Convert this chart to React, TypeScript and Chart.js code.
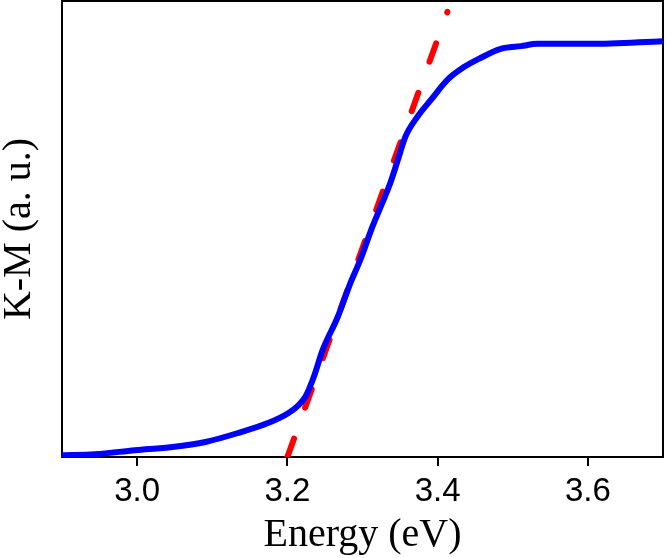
import React, { useEffect, useRef } from "react";
import { Chart, registerables } from "chart.js";

Chart.register(...registerables);

const ENERGY = [2.9, 2.944, 2.997, 3.047, 3.091, 3.135, 3.175, 3.201, 3.215, 3.224, 3.235, 3.247, 3.267, 3.284, 3.297, 3.313, 3.324, 3.337, 3.347, 3.357, 3.373, 3.391, 3.413, 3.435, 3.457, 3.484, 3.511, 3.533, 3.604, 3.7];
const KM = [0.004, 0.006, 0.015, 0.022, 0.033, 0.053, 0.075, 0.096, 0.114, 0.132, 0.175, 0.235, 0.307, 0.382, 0.432, 0.504, 0.548, 0.601, 0.651, 0.702, 0.746, 0.783, 0.827, 0.855, 0.875, 0.895, 0.901, 0.906, 0.906, 0.912];
const FIT_X = [3.2, 3.413];
const FIT_Y = [0, 0.976];
const X_TICKS = [3.0, 3.2, 3.4, 3.6];
const X_LABEL = "Energy (eV)";
const Y_LABEL = "K-M (a. u.)";

const framePlugin = {
  id: "frame",
  beforeDatasetsDraw(chart: any) {
    const { ctx, chartArea } = chart;
    ctx.save();
    ctx.strokeStyle = "#000";
    ctx.lineWidth = 2;
    ctx.strokeRect(chartArea.left, chartArea.top, chartArea.right - chartArea.left, chartArea.bottom - chartArea.top);
    ctx.restore();
  },
};

export default function App() {
  const ref = useRef<HTMLCanvasElement>(null);
  useEffect(() => {
    const chart = new Chart(ref.current!, {
      type: "line",
      data: {
        datasets: [
          {
            data: ENERGY.map((x, i) => ({ x, y: KM[i] })),
            borderColor: "#0000ff",
            borderWidth: 6,
            pointRadius: 0,
            cubicInterpolationMode: "monotone",
            borderJoinStyle: "round",
            borderCapStyle: "round",
          },
          {
            data: FIT_X.map((x, i) => ({ x, y: FIT_Y[i] })),
            borderColor: "#ff0000",
            borderWidth: 6,
            pointRadius: 0,
            borderDash: [19.5, 33],
            borderCapStyle: "round",
          },
        ],
      },
      options: {
        responsive: false,
        animation: false,
        devicePixelRatio: 1,
        layout: { padding: { top: 1, right: 3, left: 0, bottom: 0 } },
        plugins: { legend: { display: false }, tooltip: { enabled: false } },
        scales: {
          x: {
            type: "linear",
            min: 2.9,
            max: 3.7,
            afterBuildTicks: (s: any) => {
              s.ticks = X_TICKS.map((v) => ({ value: v }));
            },
            afterFit: (s: any) => {
              s.height = 101;
            },
            ticks: {
              color: "#000",
              font: { family: "Liberation Sans", size: 33 },
              padding: 6,
              maxRotation: 0,
              callback: (v: any) => Number(v).toFixed(1),
            },
            grid: { drawOnChartArea: false, drawTicks: true, tickLength: 9, color: "#000", lineWidth: 2 },
            border: { display: false },
            title: {
              display: true,
              text: X_LABEL,
              color: "#000",
              font: { family: "Liberation Serif", size: 40, lineHeight: 1 },
              padding: { top: 0, bottom: 3 },
            },
          },
          y: {
            min: 0,
            max: 1,
            afterFit: (s: any) => {
              s.width = 62;
            },
            ticks: { display: false },
            grid: { display: false },
            border: { display: false },
            title: {
              display: true,
              text: Y_LABEL,
              color: "#000",
              font: { family: "Liberation Serif", size: 40, lineHeight: 1 },
              padding: { top: -1, bottom: 0 },
            },
          },
        },
      },
      plugins: [framePlugin],
    } as any);
    return () => chart.destroy();
  }, []);
  return (
    <div style={{ position: "fixed", left: 0, top: 0, width: 666, height: 558, background: "#fff" }}>
      <canvas ref={ref} width={666} height={558} />
    </div>
  );
}
